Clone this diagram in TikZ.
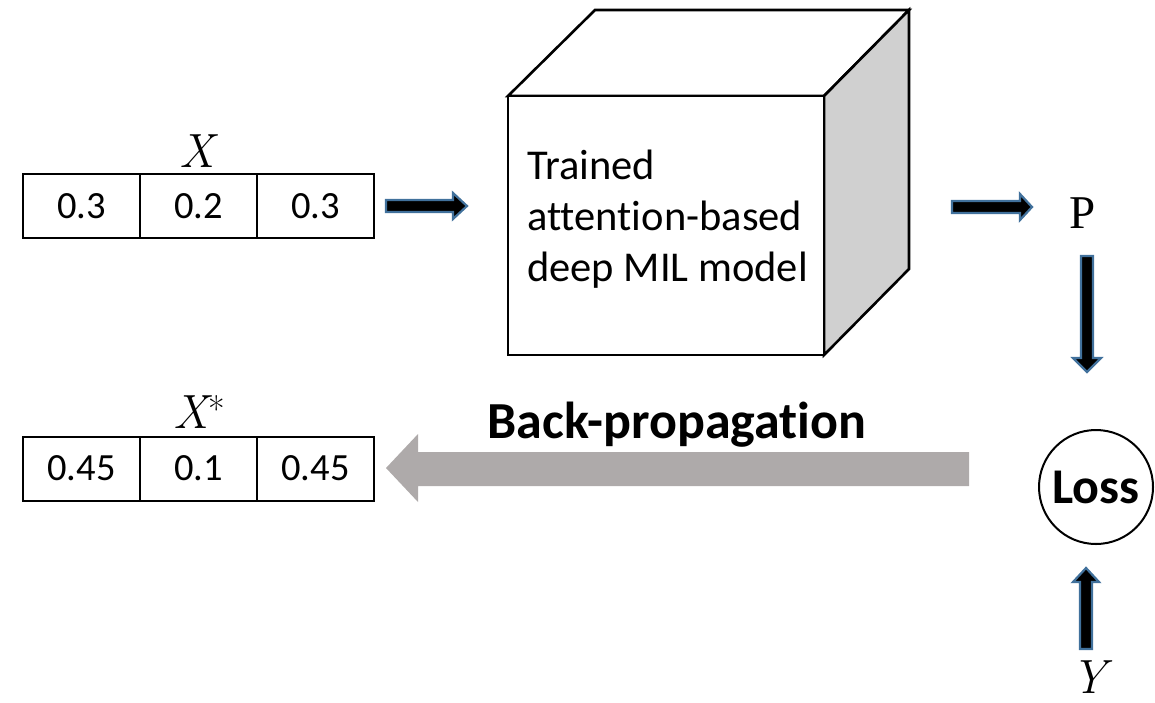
\documentclass[tikz,border=0pt]{standalone}
\usepackage{fontspec}
\newfontfamily\calibri[Ligatures=NoCommon]{Carlito}
\newfontfamily\serifP{Liberation Serif}
\definecolor{arrowblue}{RGB}{65,113,156}
\definecolor{bpgray}{RGB}{174,170,170}
\definecolor{sidegray}{RGB}{208,208,208}
\tikzset{
  cell/.style={draw=black, line width=2pt, minimum width=117pt, minimum height=64pt, inner sep=0pt, font=\calibri\fontsize{38.5}{46}\selectfont},
  blk/.style={fill=black, draw=arrowblue, line width=2.2pt, line join=miter},
  cubeline/.style={draw=black, line width=2.6pt, line join=miter},
  mathlbl/.style={inner sep=0pt, font=\fontsize{48}{56}\selectfont\itshape},
}
\begin{document}
\begin{tikzpicture}[x=1pt,y=-1pt]
\useasboundingbox (0,0) rectangle (1155,702);
% input table X
\node[cell] (x1) at (81.5,206) {0.3};
\node[cell] (x2) at (198.5,206) {0.2};
\node[cell] (x3) at (315.5,206) {0.3};
\node[mathlbl, anchor=base] (xl) at (197,167) {X};
% output table X*
\node[cell] (s1) at (81.5,468.5) {0.45};
\node[cell] (s2) at (198.5,468.5) {0.1};
\node[cell] (s3) at (315.5,468.5) {0.45};
\node[mathlbl, anchor=base] (sl) at (199,428) {X\raisebox{6pt}{\fontsize{36}{36}\selectfont\upshape *}};
% cube
\path[cubeline, fill=white] (508,96) -- (595,10) -- (909,10) -- (824,96) -- cycle;
\path[cubeline, fill=sidegray] (824,96) -- (909,10) -- (909,269) -- (824,355) -- cycle;
\path[cubeline, fill=white] (508,96) rectangle (824,355);
\node[anchor=west, align=left, inner sep=0pt, font=\calibri\fontsize{42.5}{51}\selectfont] (model) at (527,219) {Trained\\attention-based\\deep MIL model};
% block arrows
\path[blk] (386,200) -- (453,200) -- (453,193) -- (467,206) -- (453,219) -- (453,212) -- (386,212) -- cycle;
\path[blk] (952,201) -- (1020,201) -- (1020,194) -- (1032,207) -- (1020,220) -- (1020,213) -- (952,213) -- cycle;
\path[blk] (1081,256) -- (1093,256) -- (1093,358) -- (1101,358) -- (1087,372) -- (1073,358) -- (1081,358) -- cycle;
\path[blk] (1080,649) -- (1092,649) -- (1092,582) -- (1099,582) -- (1086,568) -- (1073,582) -- (1080,582) -- cycle;
% P, Loss, Y
\node[inner sep=0pt, anchor=base, font=\serifP\fontsize{47}{56}\selectfont] (p) at (1083,228) {P};
\node[draw=black, line width=2pt, circle, minimum size=114pt, inner sep=0pt, font=\calibri\bfseries\fontsize{50}{60}\selectfont] (loss) at (1096,487) {Loss};
\node[mathlbl, anchor=base] (y) at (1089,693) {Y};
% back-propagation
\path[fill=bpgray] (969,452) -- (418,452) -- (418,434) -- (386,468) -- (418,502) -- (418,486) -- (969,486) -- cycle;
\node[anchor=base, inner sep=0pt, font=\calibri\bfseries\fontsize{52}{60}\selectfont] (bp) at (677,438) {Back-propagation};
\end{tikzpicture}
\end{document}
